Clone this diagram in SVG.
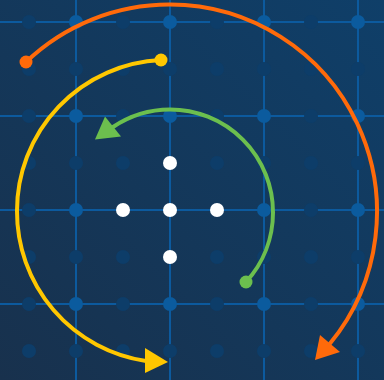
<svg xmlns="http://www.w3.org/2000/svg" width="384" height="380" viewBox="0 0 384 380">
<defs>
<linearGradient id="bg" x1="1" y1="0" x2="0" y2="1">
<stop offset="0" stop-color="#0f3f69"/>
<stop offset="1" stop-color="#18314d"/>
</linearGradient>
<style>
.gl{stroke:#0c5a9e;stroke-width:2;fill:none}
.dd{fill:#0d3d69}
.bd{fill:#0b5b9e}
.wd{fill:#ffffff}
.arc{fill:none;stroke-width:4;stroke-linecap:round}
</style>
</defs>
<rect width="384" height="380" fill="url(#bg)"/>
<g id="grid">
<path class="gl" d="M76,0V380M170,0V380M264,0V380M358,0V380M0,22H384M0,116H384M0,210H384M0,304H384"/>
<g class="dd">
<circle cx="29" cy="22" r="7"/><circle cx="123" cy="22" r="7"/><circle cx="217" cy="22" r="7"/><circle cx="311" cy="22" r="7"/>
<circle cx="29" cy="69" r="7"/><circle cx="76" cy="69" r="7"/><circle cx="123" cy="69" r="7"/><circle cx="170" cy="69" r="7"/><circle cx="217" cy="69" r="7"/><circle cx="264" cy="69" r="7"/><circle cx="311" cy="69" r="7"/><circle cx="358" cy="69" r="7"/>
<circle cx="29" cy="116" r="7"/><circle cx="123" cy="116" r="7"/><circle cx="217" cy="116" r="7"/><circle cx="311" cy="116" r="7"/>
<circle cx="29" cy="163" r="7"/><circle cx="76" cy="163" r="7"/><circle cx="123" cy="163" r="7"/><circle cx="217" cy="163" r="7"/><circle cx="264" cy="163" r="7"/><circle cx="311" cy="163" r="7"/><circle cx="358" cy="163" r="7"/>
<circle cx="29" cy="210" r="7"/><circle cx="311" cy="210" r="7"/>
<circle cx="29" cy="257" r="7"/><circle cx="76" cy="257" r="7"/><circle cx="123" cy="257" r="7"/><circle cx="217" cy="257" r="7"/><circle cx="264" cy="257" r="7"/><circle cx="311" cy="257" r="7"/><circle cx="358" cy="257" r="7"/>
<circle cx="29" cy="304" r="7"/><circle cx="123" cy="304" r="7"/><circle cx="217" cy="304" r="7"/><circle cx="311" cy="304" r="7"/>
<circle cx="29" cy="351" r="7"/><circle cx="76" cy="351" r="7"/><circle cx="123" cy="351" r="7"/><circle cx="170" cy="351" r="7"/><circle cx="217" cy="351" r="7"/><circle cx="264" cy="351" r="7"/><circle cx="311" cy="351" r="7"/><circle cx="358" cy="351" r="7"/>
</g>
<g class="bd">
<circle cx="76" cy="22" r="7"/><circle cx="170" cy="22" r="7"/><circle cx="264" cy="22" r="7"/><circle cx="358" cy="22" r="7"/>
<circle cx="76" cy="116" r="7"/><circle cx="170" cy="116" r="7"/><circle cx="264" cy="116" r="7"/><circle cx="358" cy="116" r="7"/>
<circle cx="76" cy="210" r="7"/><circle cx="264" cy="210" r="7"/><circle cx="358" cy="210" r="7"/>
<circle cx="76" cy="304" r="7"/><circle cx="170" cy="304" r="7"/><circle cx="264" cy="304" r="7"/><circle cx="358" cy="304" r="7"/>
</g>
</g>
<g id="center" class="wd">
<circle cx="170" cy="163" r="7"/><circle cx="123" cy="210" r="7"/><circle cx="170" cy="210" r="7"/><circle cx="217" cy="210" r="7"/><circle cx="170" cy="257" r="7"/>
</g>
<g id="connectors">
<g id="orange">
<path class="arc" stroke="#ff6a0a" d="M26,62 A207.5,207.5 0 0 1 170,4.5 A207.5,207.5 0 0 1 330,343.5"/>
<circle cx="26" cy="62" r="6.5" fill="#ff6a0a"/>
<polygon points="315,360 320,335 340,352" fill="#ff6a0a"/>
</g>
<g id="yellow">
<path class="arc" stroke="#ffc700" d="M161,60 A151,151 0 0 0 17,211 A151,151 0 0 0 146,361"/>
<circle cx="161" cy="60" r="6.5" fill="#ffc700"/>
<polygon points="168,362 145,348 145,373" fill="#ffc700"/>
</g>
<g id="green">
<path class="arc" stroke="#6cbf4e" stroke-width="3.5" d="M246,282 A103,103 0 0 0 273,212.5 A103,103 0 0 0 170,109.5 A103,103 0 0 0 113,127"/>
<circle cx="246" cy="282" r="6.5" fill="#6cbf4e"/>
<polygon points="95,139.5 105,116.5 121,136.5" fill="#6cbf4e"/>
</g>
</g>
</svg>
